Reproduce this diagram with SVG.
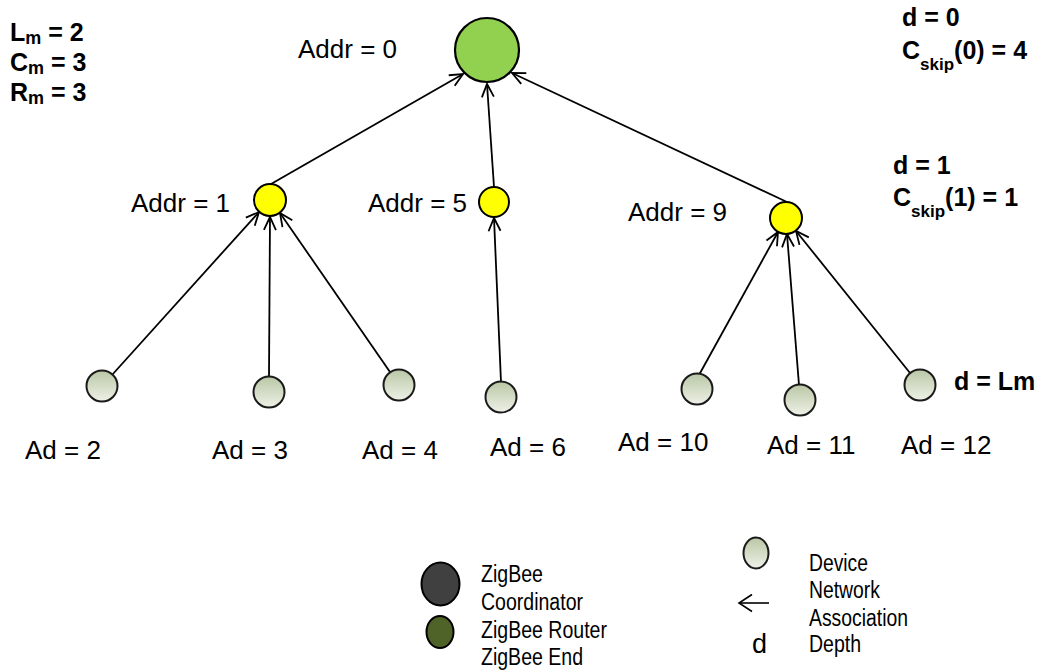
<svg xmlns="http://www.w3.org/2000/svg" width="1042" height="670" viewBox="0 0 1042 670">
<defs>
<linearGradient id="leafGrad" x1="0" y1="0" x2="0" y2="1">
<stop offset="0" stop-color="#B9C7A5"/>
<stop offset="1" stop-color="#EEF1E7"/>
</linearGradient>
<marker id="arr" markerUnits="userSpaceOnUse" markerWidth="30" markerHeight="30" viewBox="-15 -15 30 30" refX="0" refY="0" orient="auto">
<path d="M -13 -6 L 0 0 L -13 6" fill="none" stroke="#000" stroke-width="1.8"/>
</marker>
<marker id="arrL" markerUnits="userSpaceOnUse" markerWidth="40" markerHeight="40" viewBox="-20 -20 40 40" refX="0" refY="0" orient="auto">
<path d="M -13 -8.5 L 0 0 L -13 8.5" fill="none" stroke="#000" stroke-width="1.6"/>
</marker>
</defs>
<style>
.lbl{font-family:"Liberation Sans",Arial,sans-serif;font-size:26px;fill:#000}
.b{font-family:"Liberation Sans",Arial,sans-serif;font-size:25px;font-weight:bold;fill:#000}
.lg{font-family:"Liberation Sans",Arial,sans-serif;font-size:23px;fill:#000}
.edge{stroke:#000;stroke-width:1.8;fill:none;marker-end:url(#arr)}
.leaf{fill:url(#leafGrad);stroke:#1a1a1a;stroke-width:2}
.router{fill:#FFFF00;stroke:#000;stroke-width:2}
.coord{fill:#92D050;stroke:#000;stroke-width:2.2}
</style>
<rect width="1042" height="670" fill="#fff"/>

<g id="connectors">
<line class="edge" x1="271" y1="184" x2="463" y2="74"/>
<line class="edge" x1="494" y1="187" x2="487" y2="84"/>
<line class="edge" x1="787" y1="202" x2="512" y2="73"/>
<line class="edge" x1="112" y1="375" x2="259" y2="212"/>
<line class="edge" x1="269" y1="376" x2="270" y2="217"/>
<line class="edge" x1="390" y1="372" x2="280" y2="213"/>
<line class="edge" x1="501" y1="382" x2="494" y2="218"/>
<line class="edge" x1="699" y1="375" x2="778" y2="232"/>
<line class="edge" x1="799" y1="385" x2="787" y2="234"/>
<line class="edge" x1="910" y1="373" x2="796" y2="231"/>
</g>

<g id="coordinator">
<circle class="coord" cx="487" cy="50" r="32"/>
<text class="lbl" x="298" y="58">Addr = 0</text>
</g>

<g id="router1">
<circle class="router" cx="270" cy="200" r="16"/>
<text class="lbl" x="131" y="212">Addr = 1</text>
</g>
<g id="router5">
<circle class="router" cx="494" cy="202" r="15"/>
<text class="lbl" x="368" y="212">Addr = 5</text>
</g>
<g id="router9">
<circle class="router" cx="786" cy="218" r="16"/>
<text class="lbl" x="628" y="221">Addr = 9</text>
</g>

<g id="ad2"><circle class="leaf" cx="102" cy="386" r="15.5"/><text class="lbl" x="25" y="459">Ad = 2</text></g>
<g id="ad3"><circle class="leaf" cx="269" cy="392" r="15.5"/><text class="lbl" x="212" y="459">Ad = 3</text></g>
<g id="ad4"><circle class="leaf" cx="399" cy="385" r="15.5"/><text class="lbl" x="362" y="459">Ad = 4</text></g>
<g id="ad6"><circle class="leaf" cx="501" cy="397" r="15.5"/><text class="lbl" x="490" y="456">Ad = 6</text></g>
<g id="ad10"><circle class="leaf" cx="697" cy="389" r="15.5"/><text class="lbl" x="618" y="451">Ad = 10</text></g>
<g id="ad11"><circle class="leaf" cx="800" cy="400" r="15.5"/><text class="lbl" x="767" y="454">Ad = 11</text></g>
<g id="ad12"><circle class="leaf" cx="920" cy="385" r="15.5"/><text class="lbl" x="901" y="454">Ad = 12</text></g>

<g id="params">
<text class="b" x="10" y="41">L<tspan font-size="18" dy="3">m</tspan><tspan dy="-3"> = 2</tspan></text>
<text class="b" x="10" y="71">C<tspan font-size="18" dy="3">m</tspan><tspan dy="-3"> = 3</tspan></text>
<text class="b" x="10" y="101">R<tspan font-size="18" dy="3">m</tspan><tspan dy="-3"> = 3</tspan></text>
</g>

<g id="depth0">
<text class="b" x="902" y="26">d = 0</text>
<text class="b" x="902" y="59">C<tspan font-size="17" dy="11">skip</tspan><tspan dy="-11">(0) = 4</tspan></text>
</g>
<g id="depth1">
<text class="b" x="893" y="174">d = 1</text>
<text class="b" x="893" y="206">C<tspan font-size="17" dy="11">skip</tspan><tspan dy="-11">(1) = 1</tspan></text>
</g>
<g id="depthLm">
<text class="b" x="954" y="390">d = Lm</text>
</g>

<g id="legend">
<ellipse cx="440.5" cy="584" rx="19" ry="21.5" fill="#404040" stroke="#000" stroke-width="2"/>
<ellipse cx="440" cy="632" rx="13.5" ry="16" fill="#4F6228" stroke="#000" stroke-width="2"/>
<text class="lg" x="481" y="582" textLength="62" lengthAdjust="spacingAndGlyphs">ZigBee</text>
<text class="lg" x="481" y="610" textLength="102" lengthAdjust="spacingAndGlyphs">Coordinator</text>
<text class="lg" x="481" y="638" textLength="126" lengthAdjust="spacingAndGlyphs">ZigBee Router</text>
<text class="lg" x="481" y="665" textLength="102" lengthAdjust="spacingAndGlyphs">ZigBee End</text>
<ellipse class="leaf" cx="756" cy="553" rx="12.5" ry="15.5"/>
<line x1="769" y1="603" x2="739" y2="603" stroke="#000" stroke-width="1.6" marker-end="url(#arrL)"/>
<text x="752" y="653" font-family="Liberation Sans, Arial, sans-serif" font-size="27" fill="#000">d</text>
<text class="lg" x="809" y="571" textLength="59" lengthAdjust="spacingAndGlyphs">Device</text>
<text class="lg" x="809" y="598" textLength="71" lengthAdjust="spacingAndGlyphs">Network</text>
<text class="lg" x="809" y="626" textLength="99" lengthAdjust="spacingAndGlyphs">Association</text>
<text class="lg" x="809" y="652" textLength="52" lengthAdjust="spacingAndGlyphs">Depth</text>
</g>
</svg>
